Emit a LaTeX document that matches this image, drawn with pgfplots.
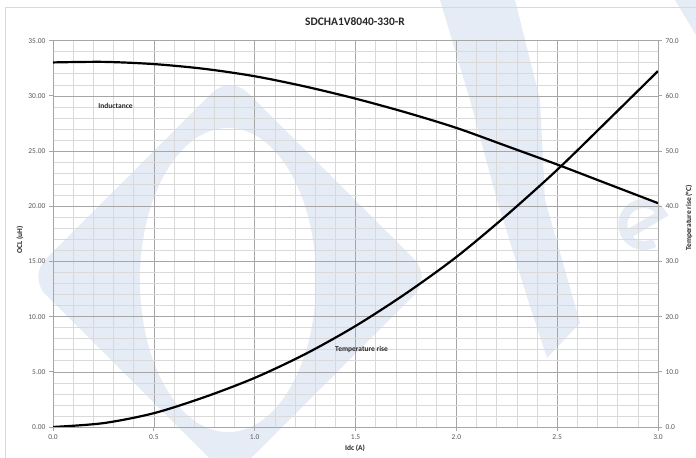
\documentclass[border=0pt]{standalone}
\usepackage{fontspec}
\setmainfont{Carlito}
\usepackage{pgfplots}
\pgfplotsset{compat=1.18}
\definecolor{tickgray}{HTML}{595959}
\definecolor{majgrid}{HTML}{A6A6A6}
\definecolor{mingrid}{HTML}{D9D9D9}
\definecolor{wm}{HTML}{E6ECF6}
\definecolor{titlec}{HTML}{262626}

\pgfplotstableread{
x   L
0.00 33.03
0.25 33.08
0.50 32.88
0.75 32.45
1.00 31.78
1.25 30.85
1.50 29.75
1.75 28.50
2.00 27.10
2.25 25.45
2.50 23.78
2.75 22.03
3.00 20.28
}\inductance

\pgfplotstableread{
x   T
0.00 0.0
0.25 0.7
0.50 2.5
0.75 5.4
1.00 8.9
1.25 13.2
1.50 18.3
1.75 24.2
2.00 30.8
2.25 38.4
2.50 46.6
2.75 55.5
3.00 64.5
}\temprise

\begin{document}
\begin{tikzpicture}[x=1bp,y=1bp]
\path[use as bounding box] (0,0) rectangle (696,458);
\fill[white] (0,0) rectangle (696,458);
% background watermark (decoration)
\fill[wm, even odd rule, rounded corners=25bp] (230,383) -- (432,181) -- (230,-21) -- (28,181) -- cycle;
\fill[white] (228,178) ellipse [x radius=88, y radius=152];
\fill[wm] (440,458) -- (515,458) -- (540,358) -- (545,258) -- (580,135) -- (547,100) -- (528,158) -- (497,258) -- (470,358) -- cycle;
\fill[wm] (675,458) -- (696,458) -- (696,423) -- cycle;
\draw[wm, line width=9bp] (625,222) -- (662,244) arc[start angle=30, end angle=300, radius=21];
\draw[mingrid, line width=1bp] (5,-5) -- (5,450) -- (705,450);

\begin{axis}[
  at={(53bp,31bp)}, anchor=south west,
  width=605bp, height=386.3bp, scale only axis,
  xmin=0, xmax=3, ymin=0, ymax=35,
  xtick={0,0.5,...,3}, minor x tick num=4,
  ytick={0,5,...,35}, minor y tick num=4,
  grid=both,
  major grid style={majgrid, line width=0.6bp},
  minor grid style={mingrid, line width=0.6bp},
  axis x line*=bottom, axis y line*=left,
  axis line style={majgrid, line width=0.8bp, -},
  tick align=outside, major tick length=4bp, minor tick length=0pt,
  tick style={majgrid, line width=0.8bp},
  /pgf/number format/assume math mode=true,
  xticklabel={\pgfmathprintnumber[fixed,fixed zerofill,precision=1]{\tick}},
  yticklabel={\pgfmathprintnumber[fixed,fixed zerofill,precision=2]{\tick}},
  tick label style={font=\fontsize{7.5}{8}\selectfont, text=tickgray},
  clip=false,
]
\addplot[black, line width=2.2bp, smooth] table[x=x, y=L] {\inductance};
\node[font=\bfseries\fontsize{7.5}{8}\selectfont, text=titlec] at (axis cs:0.31,29.1) {Inductance};
\node[font=\bfseries\fontsize{7.5}{8}\selectfont, text=titlec] at (axis cs:1.53,7.0) {Temperature rise};
\end{axis}

\begin{axis}[
  at={(53bp,31bp)}, anchor=south west,
  width=605bp, height=386.3bp, scale only axis,
  xmin=0, xmax=3, ymin=0, ymax=70,
  axis x line=none, axis y line*=right,
  ytick={0,10,...,70},
  axis line style={majgrid, line width=0.8bp, -},
  tick align=outside, major tick length=4bp,
  tick style={majgrid, line width=0.8bp},
  /pgf/number format/assume math mode=true,
  yticklabel={\pgfmathprintnumber[fixed,fixed zerofill,precision=1]{\tick}},
  tick label style={font=\fontsize{7.5}{8}\selectfont, text=tickgray},
]
\addplot[black, line width=2.2bp, smooth] table[x=x, y=T] {\temprise};
\end{axis}

\node[font=\bfseries\fontsize{11.5}{12}\selectfont, text=titlec] at (355,436) {SDCHA1V8040-330-R};
\node[font=\bfseries\fontsize{7.5}{8}\selectfont, text=titlec] at (355,10) {Idc (A)};
\node[font=\bfseries\fontsize{7.5}{8}\selectfont, text=titlec, rotate=90] at (20,218) {OCL (uH)};
\node[font=\bfseries\fontsize{7.5}{8}\selectfont, text=titlec, rotate=90] at (689,240) {Temperature rise (°C)};
\end{tikzpicture}
\end{document}
